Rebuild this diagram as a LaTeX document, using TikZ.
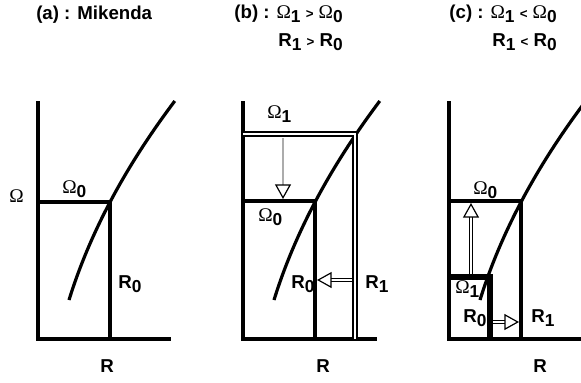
\documentclass[tikz,border=0pt]{standalone}
\usepackage{fontspec}
\setmainfont{Liberation Sans}
\newfontfamily\omfont{Liberation Serif}
\usetikzlibrary{arrows.meta}
\newcommand\Om{{\omfont\mdseries\fontsize{14.5}{14.5}\selectfont Ω}}
\newcommand\sbs[1]{\raisebox{-3pt}{\fontsize{13}{13}\selectfont #1}}
\newcommand\gtsym{{\fontsize{10}{10}\selectfont >}}
\newcommand\ltsym{{\fontsize{10}{10}\selectfont <}}
\tikzset{
  axisln/.style={line width=2.4pt},
  lvl/.style={line width=2.5pt},
  dbl/.style={double, double distance=1.3pt, line width=1.9pt},
  heavy/.style={line width=5pt},
  curveln/.style={line width=2.4pt},
  hollow/.style={double=white, double distance=1.8pt, line width=0.8pt,
    -{Triangle[open, length=11pt, width=12pt, line width=0.9pt]}},
  grayarrow/.style={draw=gray!65, line width=1.5pt,
    -{Triangle[open, length=11pt, width=12pt, line width=0.9pt, color=black]}},
  lbl/.style={font=\bfseries\fontsize{14}{14}\selectfont, inner sep=0pt},
}
\begin{document}
\begin{tikzpicture}[x=0.75pt, y=-0.75pt]
\useasboundingbox (0,0) rectangle (581,382);
\fill[white] (0,0) rectangle (581,382);
% ---------- titles ----------
\node[lbl, anchor=base west] (ta) at (36,19) {(a) : Mikenda};
\node[lbl, anchor=base east] (tb1) at (343,18) {(b) : \Om\sbs{1} \gtsym\ \Om\sbs{0}};
\node[lbl, anchor=base east] (tb2) at (343,46) {R\sbs{1} \gtsym\ R\sbs{0}};
\node[lbl, anchor=base east] (tc1) at (557,18) {(c) : \Om\sbs{1} \ltsym\ \Om\sbs{0}};
\node[lbl, anchor=base east] (tc2) at (557,46) {R\sbs{1} \ltsym\ R\sbs{0}};
% ---------- panel (a) ----------
\coordinate (aTop) at (38,101);
\coordinate (aO) at (38,339);
\coordinate (aRend) at (171,339);
\coordinate (aW0) at (38,202);
\coordinate (aP0) at (110,202);
\coordinate (aR0) at (110,339);
\draw[axisln] (aTop) -- (aO) -- (aRend);
\draw[lvl] (aW0) -- (aP0) -- (aR0);
\draw[curveln] plot[domain=0:199, samples=60, variable=\u] ({69+0.3099*\u+0.001107*\u*\u},{300-\u});
\node[lbl, anchor=base west] (aOm) at (9,202) {\Om};
\node[lbl, anchor=base west] (aOm0) at (62,193) {\Om\sbs{0}};
\node[lbl, anchor=base west] (aR0l) at (118,288) {R\sbs{0}};
\node[lbl, anchor=base] (aRl) at (107,372) {R};
% ---------- panel (b) ----------
\coordinate (bTop) at (243,101);
\coordinate (bO) at (243,339);
\coordinate (bRend) at (377,339);
\coordinate (bW1) at (243,134);
\coordinate (bP1) at (355,134);
\coordinate (bR1) at (355,339);
\coordinate (bW0) at (243,201);
\coordinate (bP0) at (315,201);
\coordinate (bR0) at (315,339);
\draw[axisln] (bTop) -- (bO) -- (bRend);
\draw[lvl] (bW0) -- (bP0) -- (bR0);
\draw[curveln] plot[domain=0:199, samples=60, variable=\u] ({274+0.3099*\u+0.001107*\u*\u},{300-\u});
\draw[dbl] (bW1) -- (bP1) -- (bR1);
\coordinate (bAs) at (283,138);
\coordinate (bAe) at (283,199);
\draw[grayarrow] (bAs) -- (bAe);
\coordinate (bHs) at (352,280);
\coordinate (bHe) at (317,280);
\draw[hollow] (bHs) -- (bHe);
\node[lbl, anchor=base west] (bOm1) at (267,118) {\Om\sbs{1}};
\node[lbl, anchor=base west] (bOm0) at (258,221) {\Om\sbs{0}};
\node[lbl, anchor=base west] (bR0l) at (291,288) {R\sbs{0}};
\node[lbl, anchor=base west] (bR1l) at (365,288) {R\sbs{1}};
\node[lbl, anchor=base] (bRl) at (323,372) {R};
% ---------- panel (c) ----------
\coordinate (cTop) at (449,101);
\coordinate (cO) at (449,339);
\coordinate (cRend) at (590,339);
\coordinate (cW0) at (449,201);
\coordinate (cP0) at (521,201);
\coordinate (cR1) at (521,339);
\coordinate (cW1) at (449,277);
\coordinate (cP1) at (490,277);
\coordinate (cR0) at (490,339);
\draw[axisln] (cTop) -- (cO) -- (cRend);
\draw[lvl] (cW0) -- (cP0) -- (cR1);
\draw[curveln] plot[domain=0:199, samples=60, variable=\u] ({480+0.3099*\u+0.001107*\u*\u},{300-\u});
\draw[heavy] (cW1) -- (cP1) -- (cR0);
\coordinate (cAs) at (471,274);
\coordinate (cAe) at (471,203);
\draw[hollow] (cAs) -- (cAe);
\coordinate (cHs) at (493,322);
\coordinate (cHe) at (519,322);
\draw[hollow] (cHs) -- (cHe);
\node[lbl, anchor=base west] (cOm0) at (473,194) {\Om\sbs{0}};
\node[lbl, anchor=base west] (cOm1) at (455,293) {\Om\sbs{1}};
\node[lbl, anchor=base west] (cR0l) at (463,322) {R\sbs{0}};
\node[lbl, anchor=base west] (cR1l) at (531,322) {R\sbs{1}};
\node[lbl, anchor=base] (cRl) at (540,372) {R};
\end{tikzpicture}
\end{document}
